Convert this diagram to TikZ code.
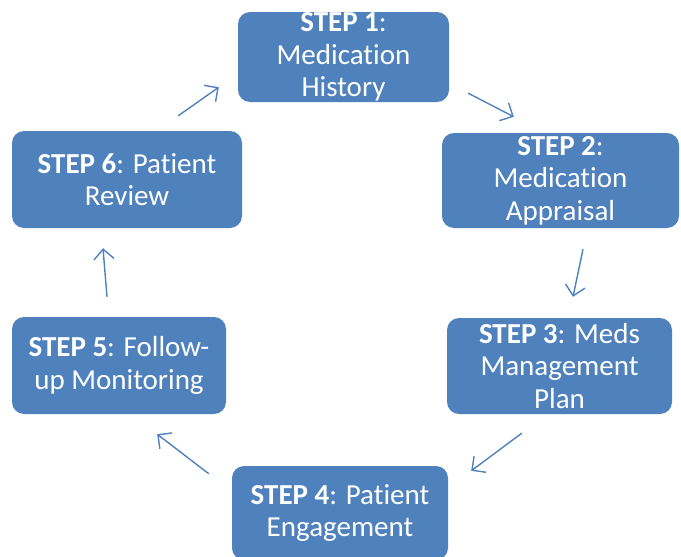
\documentclass[tikz,border=0pt]{standalone}
\usepackage{fontspec}
\setmainfont{Carlito}[Ligatures=NoCommon]
\usetikzlibrary{arrows.meta}
\definecolor{boxblue}{HTML}{4F81BD}
\tikzset{stepbox/.style = {fill=boxblue, rounded corners=12, text=white, align=center,
                           inner sep=0, font=\fontsize{29}{32.5}\selectfont}}
\tikzset{flow/.style = {draw=boxblue, line width=1.4,
                        -{Straight Barb[length=10, width=20]}}}

\begin{document}
\begin{tikzpicture}[x=1pt, y=-1pt]
      \useasboundingbox (0, 0) rectangle (681, 557);
      \node [stepbox, minimum width=211, minimum height=90] (s1) at (343.5, 57) {\textbf{STEP 1}:\\Medication\\History};
      \node [stepbox, minimum width=237, minimum height=95] (s2) at (560.5, 180.5) {\textbf{STEP 2}:\\Medication\\Appraisal};
      \node [stepbox, minimum width=225, minimum height=96] (s3) at (559.5, 366) {\textbf{STEP 3}: Meds\\Management\\Plan};
      \node [stepbox, minimum width=216, minimum height=94] (s4) at (340, 513) {\textbf{STEP 4}: Patient\\Engagement};
      \node [stepbox, minimum width=214, minimum height=97] (s5) at (119, 365.5) {\textbf{STEP 5}: Follow-\\up Monitoring};
      \node [stepbox, minimum width=230, minimum height=97] (s6) at (127, 179.5) {\textbf{STEP 6}: Patient\\Review};
      \draw [flow] ([shift={(19, -9)}]s1.south east) -- ([shift={(72, -16)}]s2.north west);
      \draw [flow] ([shift={(22.5, 21)}]s2.south) -- ([shift={(13.5, -21)}]s3.north);
      \draw [flow] ([shift={(75, 19)}]s3.south west) -- ([shift={(23, 5)}]s4.north east);
      \draw [flow] ([shift={(-23, 8)}]s4.north west) -- ([shift={(-69, 20)}]s5.south east);
      \draw [flow] ([shift={(-12, -20)}]s5.north) -- ([shift={(-24, 20)}]s6.south);
      \draw [flow] ([shift={(-64, -15)}]s6.north east) -- ([shift={(-19, -15)}]s1.south west);
    \end{tikzpicture}
\end{document}
